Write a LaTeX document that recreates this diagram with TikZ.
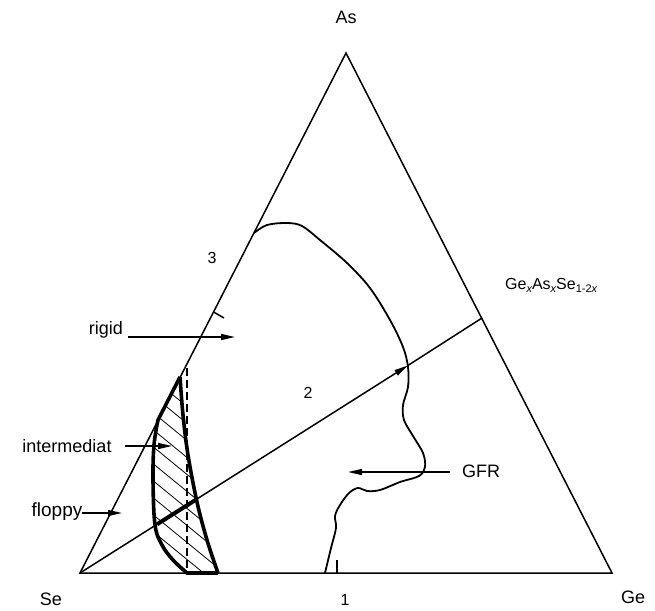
\documentclass[tikz,border=0pt]{standalone}
\usepackage{fontspec}
\setmainfont{Liberation Sans}
\usetikzlibrary{arrows.meta}
\newcommand{\subx}[1]{\raisebox{-3.5pt}{\fontsize{11}{11}\selectfont #1}}
\begin{document}
\begin{tikzpicture}[x=1pt,y=-1pt,
  edge/.style={line width=1.5pt},
  curvel/.style={line width=1.8pt},
  bold/.style={line width=3.6pt},
  hatchl/.style={line width=0.8pt},
  lbl/.style={font=\fontsize{18}{20}\selectfont, inner sep=0pt},
  num/.style={font=\fontsize{16}{18}\selectfont, inner sep=0pt},
  arr/.style={-{Triangle[length=14pt,width=6pt]}, line width=1.5pt}]
\useasboundingbox (0,0) rectangle (655,610);

% vertices
\coordinate (Se) at (80,573);
\coordinate (Ge) at (612,573);
\coordinate (As) at (346,53);
\coordinate (R) at (482,318);
\coordinate (M) at (408,365.4);

% triangle
\draw[edge, line join=miter] (Se) -- (Ge) -- (As) -- cycle;

% composition line
\draw[arr] (Se) -- (M);
\draw[edge] (M) -- (R);

% hatched region
\begin{scope}
  \clip (180,377) -- (158,420)
    -- plot[smooth, tension=0.6] coordinates {(158,420) (154,445) (153,480) (155,525) (162,545) (173,560) (187,573)}
    -- (218,573)
    -- plot[smooth, tension=0.6] coordinates {(218,573) (207,540) (197,502) (188,455) (183,415) (180,377)} -- cycle;
  \foreach \k in {300,317,...,600}
    \draw[hatchl] (140,\k) -- ++(110,90);
\end{scope}
\draw[bold, line join=round] (180,377) -- (158,420)
    -- plot[smooth, tension=0.6] coordinates {(158,420) (154,445) (153,480) (155,525) (162,545) (173,560) (187,573)};
\draw[bold, line join=round] plot[smooth, tension=0.6] coordinates {(218,573) (207,540) (197,502) (188,455) (183,415) (180,377)};
\draw[line width=4.5pt] (186,573) -- (218,573);
\draw[line width=2.4pt, dash pattern=on 8pt off 4pt] (187,368) -- (187,573);
\draw[line width=4pt] (157,524.3) -- (197,499);

% GFR curve
\draw[curvel] plot[smooth, tension=0.55] coordinates {
  (254,233) (267,225) (287,223) (302,226) (320,240) (347,263) (370,288) (390,320)
  (403,347) (408,367) (408,387) (403,405) (404,420) (413,436) (423,453) (425,467)
  (419,476) (400,482) (380,490) (367,491) (358,488) (349,493) (340,505) (335,516)
  (336,528) (331,548) (325,573)};

% ticks
\draw[edge] (213.5,312) -- (224,318);
\draw[edge] (337,560) -- (337,573);

% labels
\node[lbl] (lAs) at (346,17) {As};
\node[lbl] (lSe) at (51,599) {Se};
\node[lbl] (lGe) at (633,597) {Ge};
\node[num] (n1) at (345,600) {1};
\node[num] (n2) at (308,393) {2};
\node[num] (n3) at (212,258) {3};
\node[lbl, anchor=base west, font=\fontsize{16}{18}\selectfont] (form) at (505,289)
  {Ge\subx{\itshape x}As\subx{\itshape x}Se\subx{1-2\itshape x}};

\node[lbl] (rigid) at (106,330) {rigid};
\node[lbl] (inter) at (67,446) {intermediat};
\node[lbl, font=\fontsize{19}{21}\selectfont] (floppy) at (57,512) {floppy};
\node[lbl] (gfr) at (481,471) {GFR};

\coordinate (rigidE) at (235,337);
\coordinate (interE) at (172,446);
\coordinate (floppyE) at (122,513);
\coordinate (gfrE) at (348,472);
\draw[arr] (128,337) -- (rigidE);
\draw[arr] (125,446) -- (interE);
\draw[arr] (82,513) -- (floppyE);
\draw[arr] (450,472) -- (gfrE);
\end{tikzpicture}
\end{document}
